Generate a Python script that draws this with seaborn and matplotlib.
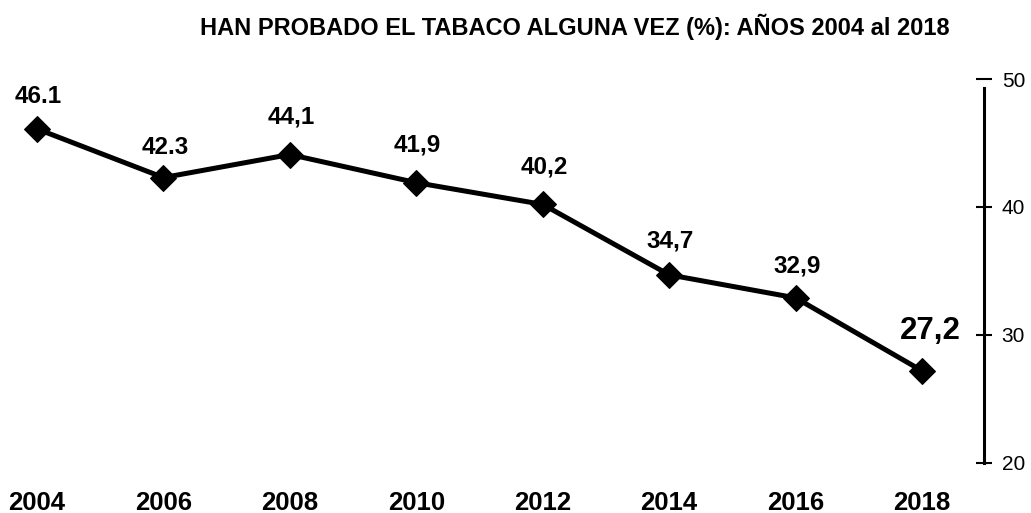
import matplotlib
matplotlib.use("Agg")
import matplotlib.pyplot as plt
import pandas as pd
import seaborn as sns

# Data
years = ["2004", "2006", "2008", "2010", "2012", "2014", "2016", "2018"]
values = [46.1, 42.3, 44.1, 41.9, 40.2, 34.7, 32.9, 27.2]
value_labels = ["46.1", "42.3", "44,1", "41,9", "40,2", "34,7", "32,9", "27,2"]
y_ticks = [20, 30, 40, 50]
title = "HAN PROBADO EL TABACO ALGUNA VEZ (%): AÑOS 2004 al 2018"

df = pd.DataFrame({"pos": range(len(years)), "value": values})

sns.set_style("white", rc={"text.color": "black", "xtick.color": "black",
                           "ytick.color": "black", "axes.labelcolor": "black"})
plt.rcParams["font.family"] = ["Liberation Sans", "DejaVu Sans"]

fig = plt.figure(figsize=(10.31, 5.13), dpi=100)
ax = fig.add_axes([0.0, 0.0975, 0.9544, 0.7485])

sns.lineplot(data=df, x="pos", y="value", ax=ax, color="black", linewidth=3.6,
             marker="D", markersize=13, markeredgecolor="black", clip_on=False)

# value labels above each point (offsets in points)
offsets = [23, 22, 27, 27, 27, 24, 23, 29]
for i, (v, lab) in enumerate(zip(values, value_labels)):
    big = i == len(values) - 1
    ax.annotate(lab, (i, v), xytext=(6 if big else 1, offsets[i]),
                textcoords="offset points", ha="center", va="center",
                fontsize=22.5 if big else 17.5, fontweight="bold", color="black")

ax.set_xlim(-0.293, 7.49)
ax.set_ylim(20, 50)
ax.set_xticks(range(len(years)))
ax.set_xticklabels(years, fontsize=18.5, fontweight="bold", color="black")
ax.tick_params(axis="x", length=0, pad=20)
ax.yaxis.tick_right()
ax.set_yticks(y_ticks)
ax.tick_params(axis="y", direction="inout", length=11.5, width=1.5,
               labelsize=15, pad=7, colors="black")
ax.set_xlabel("")
ax.set_ylabel("")

for s in ["left", "top", "bottom"]:
    ax.spines[s].set_visible(False)
ax.spines["right"].set_linewidth(2.2)
ax.spines["right"].set_color("black")
ax.spines["right"].set_bounds(20, 49.3)

fig.text(575 / 1031, 1 - 26.5 / 513, title, ha="center", va="center",
         fontsize=17, fontweight="bold", color="black")

fig.savefig("out.png", dpi=100)
